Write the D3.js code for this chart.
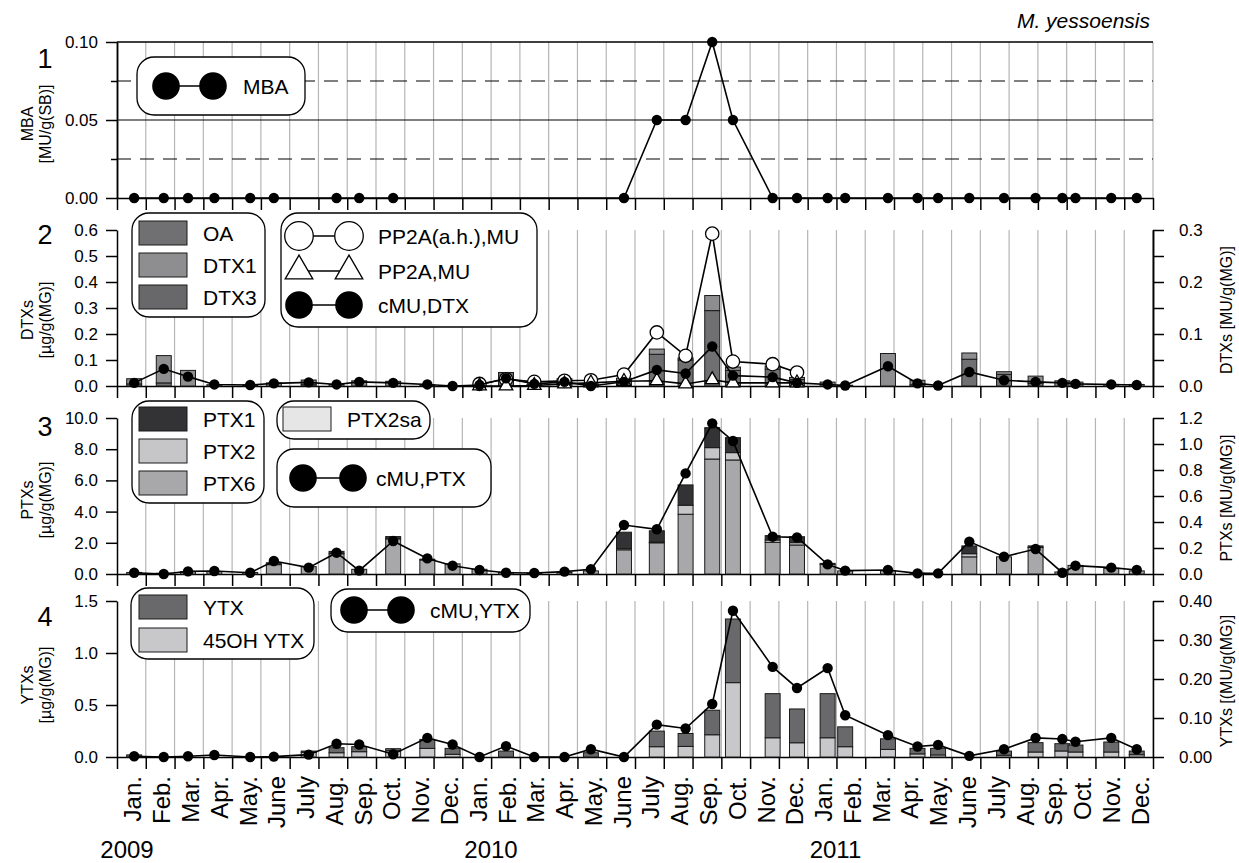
<!DOCTYPE html>
<html>
<head>
<meta charset="utf-8">
<script src="https://cdn.jsdelivr.net/npm/d3@7"></script>
<style>
  body { margin: 0; background: #fff; }
  svg { display: block; }
</style>
</head>
<body>
<svg id="chart" width="1239" height="863"></svg>
<script>
// ---------- data ----------
var monthNames = ["Jan.", "Feb.", "Mar.", "Apr.", "May.", "June", "July", "Aug.", "Sep.", "Oct.", "Nov.", "Dec."];
var years = ["2009", "2010", "2011"];
var yearAt = [-0.65, 12, 24];   // month index where each year label starts

// sampling dates (one per month)
var sampleDates = [
  "2009-01-19", "2009-02-18", "2009-03-15", "2009-04-12", "2009-05-20", "2009-06-14",
  "2009-07-21", "2009-08-20", "2009-09-13", "2009-10-19", "2009-11-24", "2009-12-21",
  "2010-01-19", "2010-02-15", "2010-03-16", "2010-04-17", "2010-05-15", "2010-06-19",
  "2010-07-24", "2010-08-24", "2010-09-21", "2010-10-13", "2010-11-24", "2010-12-20",
  "2011-01-22", "2011-02-09", "2011-03-25", "2011-04-25", "2011-05-17", "2011-06-19",
  "2011-07-26", "2011-08-29", "2011-09-26", "2011-10-10", "2011-11-17", "2011-12-14"
];

// 1: MBA [MU/g(SB)]
var mba = [0, 0, 0, 0, 0, 0, null, 0, 0, 0, null, null,
           null, null, null, null, null, 0, 0.05, 0.05, 0.10, 0.05, 0, 0,
           0, 0, 0, 0, 0, 0, 0, 0, 0, 0, 0, 0];

// 2: DTXs [ug/g(MG)] stacked, and MU series [MU/g(MG)]
var dtxOA   = [0.008, 0.012, 0, 0, 0, 0, 0.005, 0, 0, 0, 0, 0,
               0, 0.052, 0, 0.010, 0, 0.020, 0.122, 0.100, 0.290, 0.060, 0.065, 0.025,
               0, 0, 0, 0.005, 0, 0.103, 0.045, 0.010, 0, 0, 0, 0];
var dtxDTX1 = [0.020, 0.105, 0.060, 0.005, 0.004, 0.012, 0.018, 0.006, 0.020, 0.018, 0.004, 0,
               0, 0, 0.005, 0.018, 0.008, 0.010, 0.020, 0.008, 0.058, 0.013, 0.012, 0.008,
               0.015, 0.003, 0.125, 0.017, 0, 0.024, 0.010, 0.028, 0.020, 0.015, 0.006, 0.006];
var dtxDTX3 = [0, 0, 0, 0, 0, 0, 0, 0, 0, 0, 0, 0,
               0, 0, 0, 0, 0, 0, 0, 0, 0, 0, 0, 0,
               0, 0, 0, 0, 0, 0, 0, 0, 0, 0, 0, 0];
var pp2aAH  = [null, null, null, null, null, null, null, null, null, null, null, null,
               0.004, 0.013, 0.008, 0.010, 0.011, 0.022, 0.103, 0.058, 0.293, 0.047, 0.042, 0.026,
               null, null, null, null, null, null, null, null, null, null, null, null];
var pp2aMU  = [null, null, null, null, null, null, null, null, null, null, null, null,
               0.000, 0.000, 0.001, 0.004, 0.006, 0.009, 0.010, 0.004, 0.012, 0.006, 0.006, 0.006,
               null, null, null, null, null, null, null, null, null, null, null, null];
var dtxCMU  = [0.006, 0.033, 0.018, 0.003, 0.002, 0.005, 0.007, 0.003, 0.008, 0.006, 0.003, 0.000,
               0.002, 0.015, 0.004, 0.008, 0.000, 0.008, 0.031, 0.024, 0.076, 0.020, 0.017, 0.006,
               0.003, 0.001, 0.038, 0.005, 0.001, 0.027, 0.011, 0.008, 0.006, 0.004, 0.003, 0.002];

// 3: PTXs [ug/g(MG)] stacked, and cMU [MU/g(MG)]
var ptx6   = [0.10, 0.05, 0.15, 0.15, 0.10, 0.60, 0.47, 1.30, 0.30, 2.25, 0.90, 0.65,
              0.30, 0.10, 0.05, 0.10, 0.20, 1.55, 2.00, 3.83, 7.37, 7.31, 2.03, 1.86,
              0.62, 0.20, 0.20, 0.05, 0, 1.10, 1.10, 1.70, 0.13, 0.55, 0.36, 0.20];
var ptx2   = [0, 0, 0, 0, 0, 0, 0, 0, 0, 0, 0, 0,
              0, 0, 0, 0, 0, 0.08, 0.05, 0.58, 0.73, 0.47, 0.15, 0.15,
              0, 0, 0, 0, 0, 0.20, 0, 0, 0, 0, 0, 0];
var ptx1   = [0, 0, 0, 0, 0, 0.12, 0, 0.15, 0, 0.15, 0.05, 0,
              0, 0, 0, 0, 0, 1.05, 0.72, 1.30, 1.28, 0.96, 0.28, 0.38,
              0.06, 0, 0, 0, 0, 0.50, 0, 0.10, 0, 0, 0, 0];
var ptx2sa = [0, 0, 0, 0, 0, 0, 0, 0, 0, 0, 0, 0,
              0, 0, 0, 0, 0, 0, 0, 0, 0, 0, 0, 0,
              0, 0, 0, 0, 0, 0, 0, 0, 0, 0, 0, 0];
var ptxCMU = [0.010, 0.000, 0.020, 0.023, 0.010, 0.100, 0.049, 0.164, 0.026, 0.254, 0.120, 0.064,
              0.031, 0.010, 0.008, 0.018, 0.036, 0.377, 0.344, 0.774, 1.159, 1.023, 0.287, 0.282,
              0.074, 0.026, 0.031, 0.005, 0.005, 0.249, 0.133, 0.192, 0.010, 0.064, 0.049, 0.031];

// 4: YTXs [ug/g(MG)] stacked, and cMU [MU/g(MG)]
var ytx45OH = [0, 0, 0, 0, 0, 0, 0.045, 0.041, 0.051, 0.060, 0.083, 0.026,
               0, 0, 0, 0, 0, 0, 0.099, 0.102, 0.214, 0.715, 0.185, 0.137,
               0.185, 0.099, 0.073, 0.030, 0.020, 0, 0.017, 0.048, 0.058, 0.048, 0.048, 0.022];
var ytxYTX  = [0.020, 0, 0, 0, 0, 0, 0.012, 0.048, 0.048, 0.020, 0.086, 0.057,
               0, 0.057, 0, 0, 0.041, 0, 0.150, 0.124, 0.236, 0.612, 0.424, 0.325,
               0.424, 0.191, 0.102, 0.053, 0.063, 0, 0.040, 0.090, 0.070, 0.067, 0.096, 0.035];
var ytxCMU  = [0.002, 0.000, 0.002, 0.005, 0.000, 0.001, 0.006, 0.034, 0.032, 0.007, 0.049, 0.032,
               0.000, 0.028, 0.000, 0.000, 0.020, 0.000, 0.083, 0.073, 0.136, 0.375, 0.231, 0.177,
               0.228, 0.107, 0.056, 0.027, 0.031, 0.003, 0.020, 0.049, 0.046, 0.039, 0.049, 0.020];

// axis ticks
var mbaTicks = [0, 0.05, 0.10];
var mbaMinor = [0.025, 0.075];
var dtxTicksL = [0, 0.1, 0.2, 0.3, 0.4, 0.5, 0.6];
var dtxTicksR = [0, 0.1, 0.2, 0.3];
var dtxMinorR = [0.05, 0.15, 0.25];
var ptxTicksL = [0, 2, 4, 6, 8, 10];
var ptxTicksR = [0, 0.2, 0.4, 0.6, 0.8, 1.0, 1.2];
var ytxTicksL = [0, 0.5, 1.0, 1.5];
var ytxTicksR = [0, 0.1, 0.2, 0.3, 0.4];

// ---------- layout ----------
var FONT = "'Liberation Sans', Arial, Helvetica, sans-serif";
var svg = d3.select("#chart").attr("font-family", FONT);

var x = d3.scaleLinear().domain([0, 36]).range([117, 1153]);
var parse = d3.timeParse("%Y-%m-%d");
function monthPos(s) {
  var d = parse(s);
  var days = new Date(d.getFullYear(), d.getMonth() + 1, 0).getDate();
  return (d.getFullYear() - 2009) * 12 + d.getMonth() + (d.getDate() - 0.5) / days;
}
var xs = sampleDates.map(monthPos);
var barW = x(0.52) - x(0);

function styleAxis(sel, size) {
  sel.attr("font-size", size || 17).attr("font-family", FONT);
  sel.select(".domain").attr("stroke", "#000").attr("stroke-width", 1.5);
  sel.selectAll(".tick line").attr("stroke", "#000").attr("stroke-width", 1.5);
  sel.selectAll(".tick text").attr("fill", "#000");
}

function panel(p) {
  var yL = d3.scaleLinear().domain(p.left).range([p.bottom, p.top]);
  var yR = p.right ? d3.scaleLinear().domain(p.right).range([p.bottom, p.top]) : null;
  var g = svg.append("g");

  // month grid
  g.append("g").selectAll("line").data(d3.range(1, 37)).join("line")
    .attr("x1", function(d) { return x(d); })
    .attr("x2", function(d) { return x(d); })
    .attr("y1", p.top).attr("y2", p.bottom)
    .attr("stroke", "#b5b5b5").attr("stroke-width", 1.2);

  // bottom axis, month ticks downward
  g.append("g")
    .attr("transform", "translate(0," + p.bottom + ")")
    .call(d3.axisBottom(x).tickValues(d3.range(0, 37)).tickSize(12).tickSizeOuter(0).tickFormat(""))
    .call(styleAxis);

  g.append("g")
    .attr("transform", "translate(" + x(0) + ",0)")
    .call(d3.axisLeft(yL).tickValues(p.ticksL).tickSize(11).tickSizeOuter(0).tickPadding(8).tickFormat(d3.format(p.fmtL)))
    .call(styleAxis);

  if (p.minorL) {
    g.append("g")
      .attr("transform", "translate(" + x(0) + ",0)")
      .call(d3.axisLeft(yL).tickValues(p.minorL).tickSize(6).tickSizeOuter(0).tickFormat(""))
      .call(styleAxis);
  }

  if (yR) {
    g.append("g")
      .attr("transform", "translate(" + x(36) + ",0)")
      .call(d3.axisRight(yR).tickValues(p.ticksR).tickSize(11).tickSizeOuter(0).tickPadding(15).tickFormat(d3.format(p.fmtR)))
      .call(styleAxis);
    if (p.minorR) {
      g.append("g")
        .attr("transform", "translate(" + x(36) + ",0)")
        .call(d3.axisRight(yR).tickValues(p.minorR).tickSize(11).tickSizeOuter(0).tickFormat(""))
        .call(styleAxis);
    }
  }

  // panel number
  svg.append("text").attr("x", 45).attr("y", p.numY).attr("text-anchor", "middle")
    .attr("font-size", 27).text(p.num);

  // left title (two lines)
  var mid = (p.top + p.bottom) / 2 + p.titleShift;
  svg.append("text").attr("transform", "translate(33," + mid + ") rotate(-90)")
    .attr("text-anchor", "middle").attr("font-size", 16).text(p.title1);
  svg.append("text").attr("transform", "translate(51," + mid + ") rotate(-90)")
    .attr("text-anchor", "middle").attr("font-size", 16).text(p.title2);
  if (p.titleR) {
    svg.append("text").attr("transform", "translate(1232," + ((p.top + p.bottom) / 2 + 2) + ") rotate(-90)")
      .attr("text-anchor", "middle").attr("font-size", 16).text(p.titleR);
  }
  return { g: g, yL: yL, yR: yR };
}

function stackBars(g, y, keys, colors, series) {
  var rows = xs.map(function(m, i) {
    var r = { m: m };
    keys.forEach(function(k, j) { r[k] = series[j][i]; });
    return r;
  });
  var stacked = d3.stack().keys(keys)(rows);
  g.append("g").selectAll("g").data(stacked).join("g")
    .attr("fill", function(d, i) { return colors[i]; })
    .selectAll("rect")
    .data(function(d) { return d.filter(function(s) { return s[1] - s[0] > 0; }); })
    .join("rect")
    .attr("x", function(d) { return x(d.data.m) - barW / 2; })
    .attr("y", function(d) { return y(d[1]); })
    .attr("width", barW)
    .attr("height", function(d) { return y(d[0]) - y(d[1]); })
    .attr("stroke", "#1a1a1a").attr("stroke-width", 1);
}

function lineSeries(g, y, vals, marker) {
  var pts = xs.map(function(m, i) { return { m: m, v: vals[i] }; })
              .filter(function(d) { return d.v != null; });
  g.append("path").datum(pts)
    .attr("fill", "none").attr("stroke", "#000").attr("stroke-width", 1.6)
    .attr("d", d3.line().x(function(d) { return x(d.m); }).y(function(d) { return y(d.v); }));
  var sel = g.append("g").selectAll("path").data(pts).join("path")
    .attr("transform", function(d) { return "translate(" + x(d.m) + "," + y(d.v) + ")"; });
  if (marker === "open") {
    sel.attr("d", d3.symbol(d3.symbolCircle, 140)).attr("fill", "#fff").attr("stroke", "#000").attr("stroke-width", 1.3);
  } else if (marker === "tri") {
    sel.attr("d", d3.symbol(d3.symbolTriangle, 80)).attr("fill", "#fff").attr("stroke", "#000").attr("stroke-width", 1.3);
  } else {
    sel.attr("d", d3.symbol(d3.symbolCircle, 85)).attr("fill", "#000");
  }
}

// ---------- legend helpers ----------
function box(x0, y0, x1, y1) {
  svg.append("rect").attr("x", x0).attr("y", y0).attr("width", x1 - x0).attr("height", y1 - y0)
    .attr("rx", 17).attr("fill", "#fff").attr("stroke", "#000").attr("stroke-width", 1.3);
}
function swatch(x0, yc, color, label) {
  svg.append("rect").attr("x", x0).attr("y", yc - 12).attr("width", 48).attr("height", 24)
    .attr("fill", color).attr("stroke", "#1a1a1a").attr("stroke-width", 1);
  svg.append("text").attr("x", x0 + 64).attr("y", yc).attr("dy", "0.36em")
    .attr("font-size", 21).text(label);
}
function pair(xa, xb, yc, marker, label, tx) {
  svg.append("line").attr("x1", xa).attr("x2", xb).attr("y1", yc).attr("y2", yc)
    .attr("stroke", "#000").attr("stroke-width", 1.6);
  [xa, xb].forEach(function(xx) {
    var p = svg.append("path").attr("transform", "translate(" + xx + "," + yc + ")");
    if (marker === "open") p.attr("d", d3.symbol(d3.symbolCircle, 640)).attr("fill", "#fff").attr("stroke", "#000").attr("stroke-width", 1.3);
    else if (marker === "tri") p.attr("d", d3.symbol(d3.symbolTriangle, 330)).attr("fill", "#fff").attr("stroke", "#000").attr("stroke-width", 1.3);
    else p.attr("d", d3.symbol(d3.symbolCircle, 600)).attr("fill", "#000");
  });
  svg.append("text").attr("x", tx).attr("y", yc).attr("dy", "0.36em").attr("font-size", 21).text(label);
}

// ---------- panel 1 : MBA ----------
var p1 = panel({ top: 42, bottom: 198, left: [0, 0.10], ticksL: mbaTicks, minorL: mbaMinor, fmtL: ".2f",
                 num: "1", numY: 68, title1: "MBA", title2: "[MU/g(SB)]", titleShift: 4 });
p1.g.append("g").selectAll("line").data([0.025, 0.05, 0.075, 0.10]).join("line")
  .attr("x1", x(0)).attr("x2", x(36))
  .attr("y1", function(d) { return p1.yL(d); }).attr("y2", function(d) { return p1.yL(d); })
  .attr("stroke", "#000").attr("stroke-width", function(d) { return d === 0.10 ? 1.5 : 1.2; })
  .attr("stroke-dasharray", function(d) { return (d === 0.025 || d === 0.075) ? "14,9" : null; });
lineSeries(p1.g, p1.yL, mba, "filled");
box(137, 57, 305, 115);
pair(166, 213, 86, "filled", "MBA", 243);

// ---------- panel 2 : DTXs ----------
var p2 = panel({ top: 230, bottom: 386, left: [0, 0.6], right: [0, 0.3], ticksL: dtxTicksL, ticksR: dtxTicksR,
                 minorR: dtxMinorR, fmtL: ".1f", fmtR: ".1f", num: "2", numY: 244,
                 title1: "DTXs", title2: "[\u00b5g/g(MG)]", titleShift: 12, titleR: "DTXs [MU/g(MG)]" });
stackBars(p2.g, p2.yL, ["OA", "DTX1", "DTX3"], ["#707072", "#8e8e90", "#68686a"], [dtxOA, dtxDTX1, dtxDTX3]);
lineSeries(p2.g, p2.yR, pp2aAH, "open");
lineSeries(p2.g, p2.yR, pp2aMU, "tri");
lineSeries(p2.g, p2.yR, dtxCMU, "filled");
box(132, 213, 265, 317);
swatch(139, 233, "#707072", "OA");
swatch(139, 265, "#8e8e90", "DTX1");
swatch(139, 297, "#68686a", "DTX3");
box(281, 213, 537, 327);
pair(299, 349, 236, "open", "PP2A(a.h.),MU", 378);
pair(299, 349, 271, "tri", "PP2A,MU", 378);
pair(299, 349, 305, "filled", "cMU,DTX", 378);

// ---------- panel 3 : PTXs ----------
var p3 = panel({ top: 418, bottom: 574, left: [0, 10], right: [0, 1.2], ticksL: ptxTicksL, ticksR: ptxTicksR,
                 fmtL: ".1f", fmtR: ".1f", num: "3", numY: 436,
                 title1: "PTXs", title2: "[\u00b5g/g(MG)]", titleShift: 4, titleR: "PTXs [MU/g(MG)]" });
stackBars(p3.g, p3.yL, ["PTX6", "PTX2", "PTX1", "PTX2sa"], ["#a8a8aa", "#c6c6c8", "#333335", "#e6e6e6"],
          [ptx6, ptx2, ptx1, ptx2sa]);
lineSeries(p3.g, p3.yR, ptxCMU, "filled");
box(132, 401, 264, 503);
swatch(139, 419, "#333335", "PTX1");
swatch(139, 451, "#c6c6c8", "PTX2");
swatch(139, 483, "#a8a8aa", "PTX6");
box(277, 401, 430, 439);
swatch(283, 419, "#e6e6e6", "PTX2sa");
box(277, 449, 491, 507);
pair(303, 353, 478, "filled", "cMU,PTX", 376);

// ---------- panel 4 : YTXs ----------
var p4 = panel({ top: 601, bottom: 757, left: [0, 1.5], right: [0, 0.4], ticksL: ytxTicksL, ticksR: ytxTicksR,
                 fmtL: ".1f", fmtR: ".2f", num: "4", numY: 626,
                 title1: "YTXs", title2: "[\u00b5g/g(MG)]", titleShift: 6, titleR: "YTXs [(MU/g(MG)]" });
stackBars(p4.g, p4.yL, ["45OH", "YTX"], ["#c8c8ca", "#69696b"], [ytx45OH, ytxYTX]);
lineSeries(p4.g, p4.yR, ytxCMU, "filled");
box(131, 588, 314, 659);
swatch(139, 607, "#69696b", "YTX");
swatch(139, 640, "#c8c8ca", "45OH YTX");
box(331, 589, 530, 632);
pair(354, 401, 610, "filled", "cMU,YTX", 430);

// ---------- x labels ----------
svg.append("g").selectAll("text").data(d3.range(36)).join("text")
  .attr("transform", function(i) { return "translate(" + (x(i + 0.5) + 10) + ",776) rotate(-90)"; })
  .attr("text-anchor", "end").attr("font-size", 24)
  .text(function(i) { return monthNames[i % 12]; });

svg.append("g").selectAll("text").data(years).join("text")
  .attr("x", function(d, i) { return x(yearAt[i]) + 2; })
  .attr("y", 858).attr("font-size", 24)
  .text(function(d) { return d; });

svg.append("text").attr("x", 1150).attr("y", 28).attr("text-anchor", "end")
  .attr("font-size", 21).attr("font-style", "italic").text("M. yessoensis");
</script>
</body>
</html>
